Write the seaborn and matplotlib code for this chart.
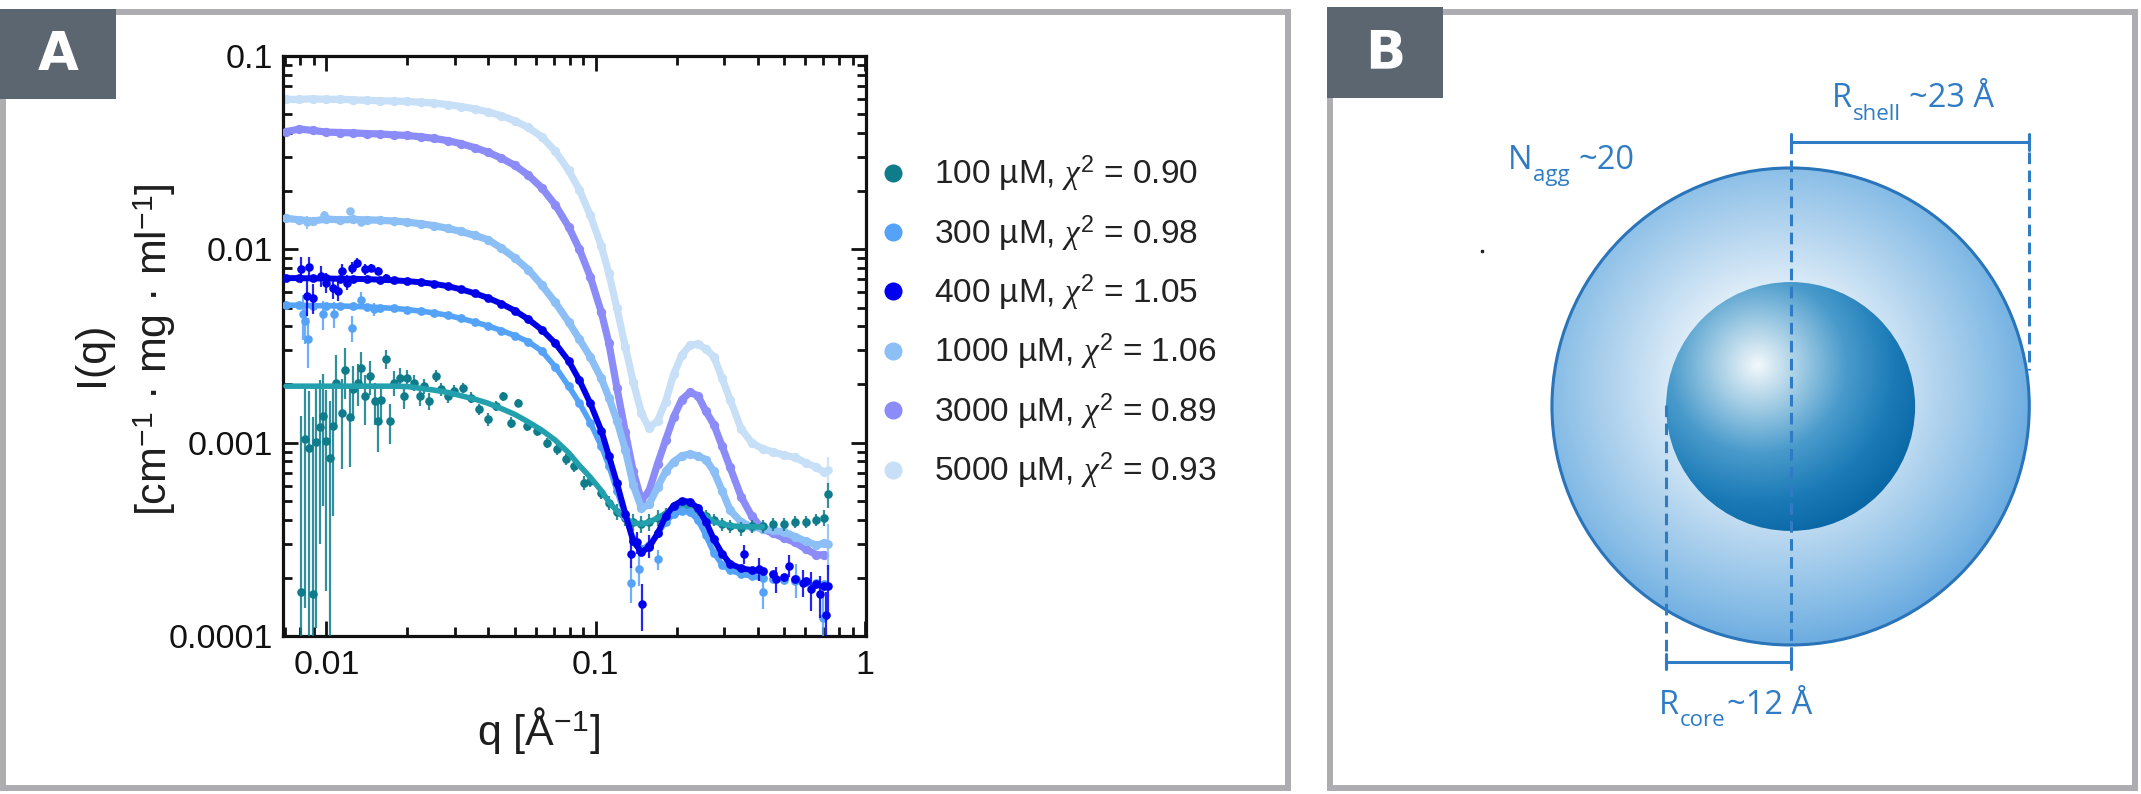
import numpy as np
import pandas as pd
import matplotlib
matplotlib.use("Agg")
import matplotlib.pyplot as plt
import seaborn as sns
from matplotlib.patches import Rectangle, Circle
from matplotlib.lines import Line2D
from matplotlib.colors import LinearSegmentedColormap
from matplotlib.ticker import LogLocator, NullFormatter, FixedLocator, FixedFormatter

# ---------------- data ----------------
Q = [0.00708, 0.00794, 0.00891, 0.0100, 0.0112, 0.0126, 0.0141, 0.0158, 0.0178, 0.0200,
     0.0224, 0.0251, 0.0282, 0.0316, 0.0355, 0.0398, 0.0447, 0.0501, 0.0562, 0.0631,
     0.0708, 0.0794, 0.0871, 0.0955, 0.105, 0.112, 0.120, 0.129, 0.138, 0.148,
     0.158, 0.170, 0.182, 0.195, 0.209, 0.224, 0.240, 0.257, 0.275, 0.295,
     0.316, 0.347, 0.380, 0.417, 0.457, 0.501, 0.550, 0.603, 0.661, 0.708]

I5000 = [0.0596, 0.0596, 0.0601, 0.0596, 0.0598, 0.0593, 0.0590, 0.0587, 0.0585, 0.0582,
         0.0577, 0.0571, 0.0561, 0.0548, 0.0533, 0.0514, 0.0491, 0.0462, 0.0427, 0.0382,
         0.0322, 0.0256, 0.0203, 0.0150, 0.0104, 0.00751, 0.00495, 0.00312, 0.00206, 0.00142,
         0.00119, 0.00130, 0.00163, 0.00226, 0.00284, 0.00319, 0.00324, 0.00305, 0.00278, 0.00215,
         0.00167, 0.00118, 0.00100, 0.000929, 0.000895, 0.000862, 0.000839, 0.000787, 0.000744, 0.000704]

I3000 = [0.0406, 0.0419, 0.0412, 0.0404, 0.0402, 0.0400, 0.0397, 0.0395, 0.0391, 0.0388,
         0.0382, 0.0375, 0.0365, 0.0352, 0.0336, 0.0318, 0.0296, 0.0272, 0.0242, 0.0208,
         0.0170, 0.01308, 0.0100, 0.00723, 0.00473, 0.00327, 0.00192, 0.00113, 0.000710, 0.000502,
         0.000564, 0.000779, 0.00103, 0.00136, 0.00167, 0.00182, 0.00175, 0.00145, 0.00124, 0.000959,
         0.000744, 0.000526, 0.000417, 0.000358, 0.000339, 0.000321, 0.000305, 0.000282, 0.000263, 0.000263]

I1000 = [0.01447, 0.01421, 0.01401, 0.01434, 0.01421, 0.01427, 0.01421, 0.01414, 0.01401, 0.01382,
         0.01357, 0.01326, 0.01284, 0.01237, 0.01181, 0.01122, 0.01014, 0.00903, 0.00786, 0.00654,
         0.00531, 0.00421, 0.00342, 0.00278, 0.00215, 0.00171, 0.00130, 0.000916, 0.000604, 0.000458,
         0.000479, 0.000590, 0.000710, 0.000797, 0.000855, 0.000874, 0.000855, 0.000816, 0.000710, 0.000564,
         0.000447, 0.000389, 0.000368, 0.000358, 0.000352, 0.000345, 0.000327, 0.000309, 0.000295, 0.000302]

I400 = [0.00710, 0.00710, 0.00707, 0.00707, 0.00704, 0.00704, 0.00701, 0.00697, 0.00691, 0.00685,
        0.00675, 0.00663, 0.00645, 0.00621, 0.00593, 0.00561, 0.00523, 0.00482, 0.00435, 0.00384,
        0.00327, 0.00265, 0.00210, 0.00160, 0.001154, 0.000855, 0.000618, 0.000427, 0.000309, 0.000272,
        0.000288, 0.000339, 0.000417, 0.000473, 0.000500, 0.000495, 0.000458, 0.000389, 0.000316, 0.000267,
        0.000236, 0.000224, 0.000219, 0.000216, 0.000209, 0.000202, 0.000196, 0.000192, 0.000186, 0.000182]

I300 = [0.00514, 0.00514, 0.00511, 0.00511, 0.00509, 0.00507, 0.00504, 0.00500, 0.00495, 0.00488,
        0.00479, 0.00469, 0.00456, 0.00439, 0.00421, 0.00402, 0.00380, 0.00358, 0.00333, 0.00298,
        0.00247, 0.00196, 0.00160, 0.00127, 0.000959, 0.000761, 0.000564, 0.000417, 0.000316, 0.000282,
        0.000295, 0.000339, 0.000389, 0.000427, 0.000443, 0.000437, 0.000398, 0.000331, 0.000269, 0.000234,
        0.000219, 0.000209, 0.000204, 0.000199, 0.000196, 0.000195, 0.000193, 0.000191, 0.000188, 0.000186]

# 100 uM model fit (first 44 grid points)
F100 = [0.00196, 0.00196, 0.00196, 0.00196, 0.00196, 0.00196, 0.00196, 0.00196, 0.00196, 0.00195,
        0.00191, 0.00187, 0.00182, 0.00175, 0.00168, 0.00160, 0.00150, 0.00140, 0.00128, 0.00116,
        0.00103, 0.000887, 0.000761, 0.000663, 0.000564, 0.000495, 0.000443, 0.000404, 0.000386, 0.000379,
        0.000389, 0.000408, 0.000431, 0.000458, 0.000473, 0.000469, 0.000443, 0.000417, 0.000389, 0.000381,
        0.000372, 0.000368, 0.000367, 0.000367]

# 100 uM measured points (noisy)
q100 = [0.00807, 0.00832, 0.00861, 0.00893, 0.00918, 0.00944, 0.00972, 0.0100, 0.0103, 0.0106,
        0.0109, 0.0114, 0.0117, 0.0122, 0.0126, 0.0131, 0.0135, 0.0139, 0.0145, 0.0151,
        0.0156, 0.0160, 0.0167, 0.0172, 0.0179, 0.0187, 0.0195, 0.0200, 0.0212, 0.0222,
        0.0231, 0.0241, 0.0255, 0.0267, 0.0282, 0.0299, 0.0321, 0.0344, 0.0370, 0.0397,
        0.0427, 0.0451, 0.0484, 0.0513, 0.0558, 0.0608, 0.0662, 0.0721, 0.0774, 0.0832,
        0.0906, 0.0955, 0.105, 0.112, 0.120, 0.129, 0.138, 0.148, 0.158, 0.170,
        0.182, 0.195, 0.209, 0.224, 0.240, 0.257, 0.275, 0.295, 0.316, 0.347,
        0.380, 0.417, 0.457, 0.501, 0.550, 0.603, 0.661, 0.708, 0.730]
i100 = [0.000168, 0.00104, 0.00094, 0.000164, 0.00101, 0.00120, 0.00137, 0.00102, 0.000836, 0.00122,
        0.00204, 0.00143, 0.00239, 0.00135, 0.00189, 0.00204, 0.00244, 0.00174, 0.00221, 0.00164,
        0.00129, 0.00167, 0.00270, 0.00129, 0.00204, 0.00217, 0.00174, 0.00217, 0.00204, 0.00174,
        0.00196, 0.00164, 0.00221, 0.00189, 0.00174, 0.00185, 0.00192, 0.00171, 0.00149, 0.00132,
        0.00155, 0.00174, 0.00127, 0.00161, 0.00122, 0.00115, 0.00100, 0.000924, 0.000820, 0.000757,
        0.000621, 0.00063, 0.00055, 0.00049, 0.00044, 0.00041, 0.00039, 0.00038, 0.00039, 0.00041,
        0.00043, 0.00046, 0.00047, 0.00046, 0.00045, 0.00042, 0.00040, 0.00038, 0.00037, 0.00036,
        0.00037, 0.00037, 0.00038, 0.00038, 0.00039, 0.00039, 0.00040, 0.00041, 0.00054]
e100 = [0.0012, 0.0009, 0.0009, 0.0012, 0.0009, 0.0009, 0.0009, 0.00085, 0.0008, 0.0008,
        0.0008, 0.0007, 0.0007, 0.0006, 0.0006, 0.0005, 0.0005, 0.0005, 0.00045, 0.0004,
        0.0004, 0.00035, 0.0003, 0.0003, 0.0003, 0.00025, 0.00025, 0.00022, 0.0002, 0.0002,
        0.00018, 0.00017, 0.00016, 0.00015, 0.00014, 0.00013, 0.00012, 0.00011, 0.0001, 0.0001,
        0.00009, 0.00009, 0.00008, 0.00008, 0.00007, 0.00007, 0.00006, 0.00006, 0.00005, 0.00005,
        0.00005, 0.00004, 0.00004, 0.00004, 0.00004, 0.00004, 0.00004, 0.00004, 0.00004, 0.00004,
        0.00003, 0.00003, 0.00003, 0.00003, 0.00003, 0.00003, 0.00003, 0.00003, 0.00003, 0.00003,
        0.00003, 0.00003, 0.00003, 0.00003, 0.00003, 0.00003, 0.00003, 0.00004, 0.00008]

# extra noisy points of the other series
q400x = [0.00807, 0.00844, 0.00861, 0.00893, 0.00958, 0.0100, 0.0106, 0.0110, 0.0114, 0.0119,
         0.0124, 0.0130, 0.0139, 0.0147, 0.0155, 0.0167, 0.135, 0.143, 0.149, 0.158,
         0.357, 0.406, 0.469, 0.525, 0.589, 0.632, 0.679, 0.720, 0.730]
i400x = [0.00789, 0.00574, 0.00813, 0.00562, 0.00728, 0.00673, 0.00634, 0.00608, 0.00773, 0.00673,
         0.00803, 0.00853, 0.00789, 0.00803, 0.00773, 0.00714, 0.000265, 0.000305, 0.000146, 0.000293,
         0.000265, 0.000222, 0.000197, 0.000231, 0.000189, 0.000175, 0.000164, 0.000129, 0.000182]
e400x = [0.0012, 0.0012, 0.0010, 0.0010, 0.0009, 0.0008, 0.0008, 0.0007, 0.0007, 0.0006,
         0.0006, 0.0005, 0.0005, 0.0004, 0.0004, 0.0003, 0.00004, 0.00004, 0.00004, 0.00004,
         0.00003, 0.00003, 0.00003, 0.00003, 0.00003, 0.00004, 0.00004, 0.00004, 0.00005]

q300x = [0.00819, 0.0083, 0.00855, 0.0097, 0.0107, 0.0124, 0.0135, 0.0150,
         0.135, 0.145, 0.170, 0.418, 0.556, 0.700]
i300x = [0.00461, 0.00425, 0.00342, 0.00461, 0.00461, 0.00393, 0.0055, 0.0049,
         0.000189, 0.000222, 0.00025, 0.000168, 0.000197, 0.000124]
e300x = [0.0012, 0.0010, 0.0010, 0.0008, 0.0007, 0.0006, 0.0005, 0.0004,
         0.00004, 0.00004, 0.00003, 0.00003, 0.00004, 0.00005]

q1000x = [0.0085, 0.0098, 0.0122, 0.0135, 0.730]
i1000x = [0.0138, 0.0150, 0.0157, 0.0139, 0.00030]
e1000x = [0.0010, 0.0008, 0.0006, 0.0005, 0.00008]

q5000x = [0.730]
i5000x = [0.00072]
e5000x = [0.00012]

labels = ["100 µM, $\\chi^{2}$ = 0.90", "300 µM, $\\chi^{2}$ = 0.98", "400 µM, $\\chi^{2}$ = 1.05",
          "1000 µM, $\\chi^{2}$ = 1.06", "3000 µM, $\\chi^{2}$ = 0.89", "5000 µM, $\\chi^{2}$ = 0.93"]
colors = ["#0e7c8a", "#55a3f8", "#0000f0", "#8cbff5", "#8c8cf8", "#c8dff8"]

R_shell, R_core = 23, 12   # Angstrom
N_agg = 20

# ---------------- style ----------------
sns.set_theme(style="ticks")
plt.rcParams.update({
    "font.family": ["Liberation Sans", "DejaVu Sans"],
    "mathtext.fontset": "custom",
    "mathtext.rm": "Liberation Sans",
    "mathtext.it": "Liberation Serif:italic",
    "mathtext.bf": "Liberation Sans:bold",
    "mathtext.sf": "Liberation Sans",
    "text.color": "#1e1e1e",
    "axes.labelcolor": "#1e1e1e",
    "xtick.color": "#111111",
    "ytick.color": "#111111",
})

W, H = 2141, 794
fig = plt.figure(figsize=(W / 100, H / 100), dpi=100)
fig.patch.set_facecolor("white")

def fx(px):
    return px / W

def fy(py):
    return 1 - py / H

# ---------------- panel frames ----------------
frame_c = "#adacb1"
fig.add_artist(Rectangle((fx(3), fy(788)), fx(1288) - fx(3), fy(12) - fy(788),
                         transform=fig.transFigure, fill=False, ec=frame_c, lw=4.3, zorder=0))
fig.add_artist(Rectangle((fx(1330), fy(788)), fx(2135) - fx(1330), fy(12) - fy(788),
                         transform=fig.transFigure, fill=False, ec=frame_c, lw=4.3, zorder=0))
box_c = "#5b6670"
fig.add_artist(Rectangle((fx(0), fy(99)), fx(116), fy(9) - fy(99),
                         transform=fig.transFigure, fc=box_c, ec="none", zorder=1))
fig.add_artist(Rectangle((fx(1327), fy(98)), fx(1443) - fx(1327), fy(7) - fy(98),
                         transform=fig.transFigure, fc=box_c, ec="none", zorder=1))
fig.text(fx(58), fy(55), "A", color="white", fontsize=38, fontweight="bold",
         family="DejaVu Sans", ha="center", va="center", zorder=2)
fig.text(fx(1385), fy(53), "B", color="white", fontsize=38, fontweight="bold",
         family="DejaVu Sans", ha="center", va="center", zorder=2)

# ---------------- panel A ----------------
ax = fig.add_axes([fx(283), fy(636), fx(866) - fx(283), fy(56) - fy(636)])
ax.set_xscale("log")
ax.set_yscale("log")

grid = pd.DataFrame({"q": Q, "I5000": I5000, "I3000": I3000, "I1000": I1000,
                     "I400": I400, "I300": I300})
fit100 = pd.DataFrame({"q": Q[:len(F100)], "I": F100})
d100 = pd.DataFrame({"q": q100, "I": i100, "e": e100})

def errpts(qv, iv, ev, c, z):
    ax.errorbar(qv, iv, yerr=ev, fmt="none", ecolor=c, elinewidth=1.6, capsize=0, zorder=z, alpha=0.85)
    sns.scatterplot(x=qv, y=iv, ax=ax, color=c, s=38, linewidth=0, zorder=z + 0.1, legend=False)

# 5000, 3000, 1000: dense bands
for col, c, z, xq, xi, xe in [("I5000", colors[5], 2, q5000x, i5000x, e5000x),
                              ("I3000", colors[4], 3, [], [], []),
                              ("I1000", colors[3], 4, q1000x, i1000x, e1000x)]:
    sns.lineplot(data=grid, x="q", y=col, ax=ax, color=c, lw=5.2, sort=False,
                 estimator=None, zorder=z, legend=False)
    sns.scatterplot(data=grid, x="q", y=col, ax=ax, color=c, s=45, linewidth=0, zorder=z, legend=False)
    if xq:
        errpts(xq, xi, xe, c, z)

# 100 uM
errpts(d100["q"], d100["I"], d100["e"], colors[0], 5)
sns.lineplot(data=fit100, x="q", y="I", ax=ax, color="#22a0ad", lw=4.0, sort=False,
             estimator=None, zorder=5.5, legend=False)

# 300 uM
errpts(q300x, i300x, e300x, colors[1], 6)
sns.scatterplot(data=grid, x="q", y="I300", ax=ax, color=colors[1], s=40, linewidth=0, zorder=6, legend=False)
sns.lineplot(data=grid.iloc[:44], x="q", y="I300", ax=ax, color=colors[1], lw=4.0, sort=False,
             estimator=None, zorder=6.2, legend=False)

# 400 uM
errpts(q400x, i400x, e400x, colors[2], 7)
sns.scatterplot(data=grid, x="q", y="I400", ax=ax, color=colors[2], s=40, linewidth=0, zorder=7, legend=False)
sns.lineplot(data=grid.iloc[:44], x="q", y="I400", ax=ax, color="#0000e6", lw=4.3, sort=False,
             estimator=None, zorder=7.2, legend=False)

ax.set_xlim(0.0069, 1.01)
ax.set_ylim(0.0001, 0.1)
ax.xaxis.set_major_locator(FixedLocator([0.01, 0.1, 1]))
ax.xaxis.set_major_formatter(FixedFormatter(["0.01", "0.1", "1"]))
ax.yaxis.set_major_locator(FixedLocator([0.0001, 0.001, 0.01, 0.1]))
ax.yaxis.set_major_formatter(FixedFormatter(["0.0001", "0.001", "0.01", "0.1"]))
ax.xaxis.set_minor_locator(LogLocator(base=10, subs=np.arange(2, 10), numticks=20))
ax.yaxis.set_minor_locator(LogLocator(base=10, subs=np.arange(2, 10), numticks=20))
ax.xaxis.set_minor_formatter(NullFormatter())
ax.yaxis.set_minor_formatter(NullFormatter())
ax.tick_params(which="both", direction="in", top=True, right=True, width=2.0, color="#111111")
ax.tick_params(which="major", length=11, labelsize=24.5)
ax.tick_params(which="minor", length=6.5)
ax.tick_params(axis="y", which="major", pad=7)
ax.tick_params(axis="x", which="major", pad=10)
for s in ax.spines.values():
    s.set_linewidth(2.3)
    s.set_color("#111111")
ax.set_xlabel("")
ax.set_ylabel("")
ax.set_facecolor("none")

fig.text(fx(538), fy(730), "q [Å$^{-1}$]", ha="center", va="center", fontsize=31)
fig.text(fx(92), fy(354), "I(q)", ha="center", va="center", rotation=90, fontsize=31)
fig.text(fx(155), fy(350), "[cm$^{-1}$ · mg · ml$^{-1}$]", ha="center", va="center",
         rotation=90, fontsize=31)

handles = [Line2D([], [], ls="", marker="o", markersize=13, color=c, markeredgewidth=0) for c in colors]
leg = ax.legend(handles, labels, loc="upper left", bbox_to_anchor=(fx(876), fy(154)),
                bbox_transform=fig.transFigure, frameon=False, fontsize=24, handlelength=1.0,
                handletextpad=0.75, labelspacing=0.58, borderpad=0, borderaxespad=0)
for t in leg.get_texts():
    t.set_color("#222222")

# ---------------- panel B ----------------
axB = fig.add_axes([fx(1333), fy(785), fx(2132) - fx(1333), fy(15) - fy(785)])
axB.set_axis_off()
blue_line = "#2f7cc4"

g = np.linspace(-R_shell, R_shell, 700)
X, Y = np.meshgrid(g, g)
cm_out = LinearSegmentedColormap.from_list(
    "out", [(0, "#ffffff"), (0.35, "#e2eff9"), (0.6, "#b4d5ef"), (0.85, "#86bce6"), (1.0, "#69aae0")])
d_out = np.clip(np.hypot(X + 1.5, Y - 2.0) / 25.5, 0, 1)
im1 = axB.imshow(cm_out(d_out), extent=(-R_shell, R_shell, -R_shell, R_shell), origin="lower",
                 zorder=1, interpolation="bilinear")
im1.set_clip_path(Circle((0, 0), R_shell, transform=axB.transData))
axB.add_patch(Circle((0, 0), R_shell, fill=False, ec="#2a74b9", lw=2.2, zorder=3))

gi = np.linspace(-R_core, R_core, 500)
Xi, Yi = np.meshgrid(gi, gi)
cm_in = LinearSegmentedColormap.from_list(
    "in", [(0, "#f3f8fb"), (0.22, "#a9d0e6"), (0.5, "#4a9bcc"), (0.78, "#1a7ab6"), (1.0, "#0a67a5")])
d_in = np.clip(np.hypot(Xi + 3.2, Yi - 4.0) / 17.0, 0, 1)
im2 = axB.imshow(cm_in(d_in), extent=(-R_core, R_core, -R_core, R_core), origin="lower",
                 zorder=2, interpolation="bilinear")
im2.set_clip_path(Circle((0, 0), R_core, transform=axB.transData))

dash = dict(color=blue_line, lw=2.2, ls=(0, (3.8, 2.1)), zorder=4)
solid = dict(color=blue_line, lw=2.2, zorder=4)
y_top, y_bot = R_shell + 2.5, -R_shell - 1.6
axB.plot([0, 0], [y_top, y_bot], **dash)
axB.plot([R_shell, R_shell], [y_top + 0.8, 3.5], **dash)
axB.plot([-R_core, -R_core], [0.1, y_bot - 0.9], **dash)
axB.plot([0, R_shell], [y_top, y_top], **solid)
axB.plot([0, 0], [y_top - 0.75, y_top + 0.75], **solid)
axB.plot([R_shell, R_shell], [y_top - 0.75, y_top + 0.75], **solid)
axB.plot([-R_core, 0], [y_bot, y_bot], **solid)
axB.plot([-R_core, -R_core], [y_bot - 0.75, y_bot + 0.75], **solid)
axB.plot([0, 0], [y_bot - 0.75, y_bot + 0.75], **solid)
axB.plot([-29.7], [15.0], ls="", marker="s", markersize=2, color="#222222", zorder=4)

axB.set_xlim(-44.1, 32.9)
axB.set_ylim(-36.5, 37.75)
axB.set_aspect("auto")

# labels with a deep subscript, built piece by piece
renderer = fig.canvas.get_renderer()
tkw = dict(color=blue_line, family="Open Sans", va="baseline", ha="left", zorder=5)

def sub_label(x_px, base_px, main, sub, rest, gap_px):
    t1 = fig.text(fx(x_px), fy(base_px), main, fontsize=23.5, **tkw)
    b1 = t1.get_window_extent(renderer)
    t2 = fig.text((b1.x1 + 1) / W, fy(base_px + 12.5), sub, fontsize=16, **tkw)
    b2 = t2.get_window_extent(renderer)
    fig.text((b2.x1 + gap_px) / W, fy(base_px), rest, fontsize=23.5, **tkw)

sub_label(1832, 107, "R", "shell", "~%d Å" % R_shell, 8)
sub_label(1508, 169, "N", "agg", "~%d" % N_agg, 8)
sub_label(1659, 714, "R", "core", "~%d Å" % R_core, 1)

fig.savefig("out.png", dpi=100, facecolor="white")
